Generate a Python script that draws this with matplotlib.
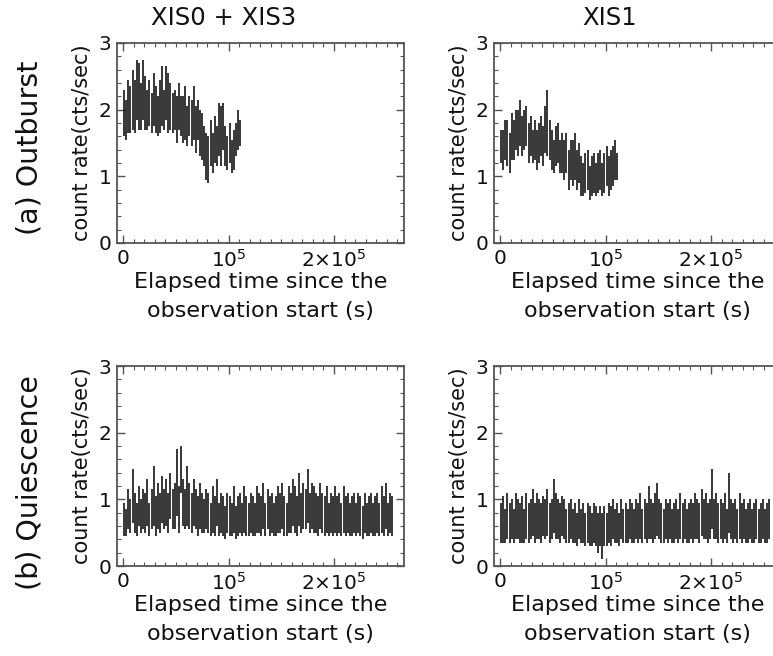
import numpy as np
import matplotlib
matplotlib.use("Agg")
import matplotlib.pyplot as plt
from matplotlib.ticker import MultipleLocator, FuncFormatter

plt.rcParams['font.family'] = ['DejaVu Sans']
plt.rcParams['mathtext.fontset'] = 'dejavusans'

# ---- light-curve data: 2 ks bins, bin centres in ks ----
BIN_KS = 2.0

# (a) Outburst, XIS0 + XIS3
out_xis03_rate = [1.95, 1.85, 2.05, 2.00, 2.15, 2.05, 2.30, 2.20, 2.05, 2.30,
                  2.10, 2.00, 2.10, 1.95, 2.15, 2.00, 1.90, 2.05, 2.20, 2.00,
                  2.25, 2.10, 2.05, 1.95, 2.00, 1.85, 2.05, 1.90, 1.85, 1.95,
                  1.75, 1.90, 1.80, 1.95, 1.70, 1.85, 1.65, 1.60, 1.45, 1.30,
                  1.25, 1.50, 1.35, 1.55, 1.45, 1.70, 1.60, 1.75, 1.45, 1.35,
                  1.50, 1.30, 1.40, 1.55, 1.70, 1.65]
out_xis03_err = [0.35, 0.30, 0.40, 0.35, 0.45, 0.40, 0.45, 0.50, 0.35, 0.45,
                 0.40, 0.30, 0.35, 0.30, 0.40, 0.35, 0.30, 0.40, 0.45, 0.30,
                 0.40, 0.45, 0.35, 0.30, 0.30, 0.35, 0.35, 0.30, 0.35, 0.40,
                 0.30, 0.30, 0.35, 0.40, 0.35, 0.30, 0.35, 0.35, 0.30, 0.35,
                 0.35, 0.35, 0.30, 0.35, 0.30, 0.40, 0.45, 0.35, 0.30, 0.25,
                 0.30, 0.25, 0.30, 0.25, 0.30, 0.20]

# (a) Outburst, XIS1
out_xis1_rate = [1.45, 1.40, 1.55, 1.50, 1.35, 1.60, 1.55, 1.70, 1.65, 1.80,
                 1.60, 1.70, 1.75, 1.50, 1.60, 1.45, 1.55, 1.40, 1.50, 1.60,
                 1.45, 1.70, 1.80, 1.55, 1.40, 1.30, 1.45, 1.50, 1.30, 1.35,
                 1.25, 1.35, 1.10, 1.25, 1.20, 1.30, 1.10, 1.20, 1.00, 0.95,
                 1.05, 1.10, 0.90, 1.00, 1.05, 0.95, 1.05, 1.10, 0.95, 1.05,
                 1.15, 1.00, 1.10, 1.15, 1.25, 1.15]
out_xis1_err = [0.25, 0.30, 0.30, 0.35, 0.30, 0.35, 0.30, 0.30, 0.35, 0.35,
                0.30, 0.30, 0.30, 0.30, 0.30, 0.25, 0.30, 0.30, 0.30, 0.30,
                0.30, 0.35, 0.50, 0.30, 0.30, 0.25, 0.30, 0.30, 0.25, 0.30,
                0.30, 0.30, 0.30, 0.30, 0.35, 0.35, 0.30, 0.30, 0.30, 0.25,
                0.30, 0.30, 0.25, 0.30, 0.30, 0.25, 0.30, 0.30, 0.25, 0.30,
                0.30, 0.30, 0.30, 0.30, 0.30, 0.20]

# (b) Quiescence, XIS0 + XIS3
qui_xis03_rate = [0.70, 0.65, 0.85, 0.75, 1.05, 0.80, 0.70, 0.90, 0.75, 0.85,
                  0.80, 0.95, 0.70, 0.85, 1.05, 0.75, 0.90, 0.80, 1.00, 0.85,
                  0.95, 0.80, 1.05, 0.85, 0.90, 1.25, 0.85, 1.45, 0.95, 0.85,
                  1.05, 0.90, 0.80, 0.95, 0.85, 0.75, 0.90, 0.80, 0.75, 0.85,
                  0.80, 0.70, 0.85, 0.75, 0.95, 0.70, 0.80, 0.75, 0.65, 0.80,
                  0.75, 0.70, 0.85, 0.65, 0.75, 0.80, 0.70, 0.85, 0.75, 0.70,
                  0.80, 0.75, 0.70, 0.85, 0.80, 0.75, 0.90, 0.70, 0.85, 0.75,
                  0.80, 0.70, 0.75, 0.85, 0.80, 0.90, 0.75, 0.70, 0.85, 0.80,
                  0.95, 0.85, 0.75, 1.00, 0.80, 0.90, 0.85, 1.05, 0.80, 0.90,
                  0.85, 0.80, 0.75, 0.90, 0.80, 0.75, 0.85, 0.70, 0.80, 0.75,
                  0.85, 0.75, 0.80, 0.70, 0.85, 0.75, 0.80, 0.70, 0.75, 0.80,
                  0.70, 0.80, 0.75, 0.65, 0.80, 0.70, 0.75, 0.80, 0.70, 0.75,
                  0.80, 0.70, 0.85, 0.75, 0.90, 0.70, 0.80, 0.75]
qui_xis03_err = [0.25, 0.20, 0.30, 0.25, 0.40, 0.30, 0.25, 0.30, 0.25, 0.30,
                 0.30, 0.35, 0.25, 0.30, 0.45, 0.30, 0.35, 0.30, 0.35, 0.30,
                 0.35, 0.30, 0.35, 0.30, 0.35, 0.50, 0.35, 0.35, 0.35, 0.30,
                 0.45, 0.35, 0.30, 0.35, 0.30, 0.30, 0.35, 0.30, 0.25, 0.30,
                 0.30, 0.25, 0.35, 0.30, 0.35, 0.25, 0.30, 0.30, 0.25, 0.30,
                 0.30, 0.25, 0.35, 0.25, 0.30, 0.30, 0.25, 0.35, 0.30, 0.25,
                 0.30, 0.30, 0.25, 0.35, 0.30, 0.30, 0.35, 0.25, 0.30, 0.30,
                 0.30, 0.25, 0.30, 0.35, 0.30, 0.35, 0.30, 0.25, 0.35, 0.30,
                 0.35, 0.35, 0.30, 0.40, 0.30, 0.35, 0.30, 0.40, 0.30, 0.35,
                 0.35, 0.30, 0.30, 0.35, 0.30, 0.30, 0.35, 0.25, 0.30, 0.30,
                 0.35, 0.30, 0.30, 0.25, 0.35, 0.30, 0.30, 0.25, 0.30, 0.30,
                 0.25, 0.30, 0.30, 0.25, 0.30, 0.25, 0.30, 0.30, 0.25, 0.30,
                 0.30, 0.25, 0.35, 0.30, 0.35, 0.25, 0.30, 0.30]

# (b) Quiescence, XIS1
qui_xis1_rate = [0.65, 0.70, 0.60, 0.75, 0.65, 0.70, 0.60, 0.75, 0.70, 0.65,
                 0.70, 0.60, 0.75, 0.65, 0.70, 0.80, 0.65, 0.75, 0.70, 0.65,
                 0.75, 0.70, 0.80, 0.65, 0.70, 0.90, 0.75, 0.70, 0.65, 0.75,
                 0.70, 0.60, 0.65, 0.70, 0.60, 0.65, 0.55, 0.70, 0.60, 0.65,
                 0.55, 0.65, 0.60, 0.55, 0.65, 0.60, 0.50, 0.60, 0.45, 0.60,
                 0.55, 0.65, 0.60, 0.70, 0.60, 0.65, 0.55, 0.70, 0.60, 0.65,
                 0.60, 0.70, 0.65, 0.60, 0.70, 0.65, 0.75, 0.60, 0.70, 0.65,
                 0.80, 0.70, 0.65, 0.75, 0.85, 0.70, 0.65, 0.60, 0.70, 0.65,
                 0.70, 0.60, 0.65, 0.70, 0.60, 0.75, 0.65, 0.70, 0.60, 0.65,
                 0.70, 0.65, 0.75, 0.70, 0.65, 0.80, 0.70, 0.75, 0.65, 0.70,
                 1.00, 0.70, 0.75, 0.65, 0.70, 0.65, 0.75, 0.60, 0.95, 0.70,
                 0.65, 0.70, 0.60, 0.75, 0.65, 0.70, 0.60, 0.65, 0.70, 0.60,
                 0.65, 0.70, 0.60, 0.65, 0.70, 0.60, 0.65, 0.70]
qui_xis1_err = [0.30, 0.35, 0.25, 0.35, 0.30, 0.30, 0.25, 0.35, 0.30, 0.30,
                0.35, 0.25, 0.35, 0.30, 0.30, 0.35, 0.30, 0.35, 0.30, 0.30,
                0.30, 0.30, 0.35, 0.30, 0.30, 0.40, 0.35, 0.30, 0.30, 0.30,
                0.30, 0.25, 0.30, 0.30, 0.25, 0.30, 0.25, 0.30, 0.25, 0.30,
                0.25, 0.30, 0.30, 0.25, 0.30, 0.30, 0.30, 0.30, 0.35, 0.30,
                0.25, 0.30, 0.30, 0.30, 0.25, 0.30, 0.25, 0.30, 0.25, 0.30,
                0.25, 0.30, 0.30, 0.25, 0.30, 0.30, 0.35, 0.25, 0.30, 0.30,
                0.40, 0.30, 0.30, 0.35, 0.40, 0.30, 0.30, 0.25, 0.30, 0.30,
                0.30, 0.25, 0.30, 0.30, 0.25, 0.35, 0.30, 0.30, 0.25, 0.30,
                0.30, 0.30, 0.35, 0.30, 0.30, 0.35, 0.30, 0.35, 0.30, 0.30,
                0.45, 0.30, 0.35, 0.30, 0.30, 0.30, 0.35, 0.25, 0.45, 0.30,
                0.30, 0.30, 0.25, 0.35, 0.30, 0.30, 0.25, 0.30, 0.30, 0.25,
                0.30, 0.30, 0.25, 0.30, 0.30, 0.25, 0.30, 0.30]

col_titles = ["XIS0 + XIS3", "XIS1"]
row_titles = ["(a) Outburst", "(b) Quiescence"]
ylabel = "count rate(cts/sec)"
xlabel = "Elapsed time since the\nobservation start (s)"

panels = [
    [(out_xis03_rate, out_xis03_err), (out_xis1_rate, out_xis1_err)],
    [(qui_xis03_rate, qui_xis03_err), (qui_xis1_rate, qui_xis1_err)],
]


def bin_times(n):
    # bin centres in seconds
    return (np.arange(n) + 0.5) * BIN_KS * 1e3


def xfmt(v, pos):
    if abs(v) < 1:
        return "0"
    k = int(round(v / 1e5))
    if k == 1:
        return r"$\mathregular{10^5}$"
    return r"$\mathregular{%d{\times}10^5}$" % k


fig = plt.figure(figsize=(7.73, 6.56), dpi=100)
W, H = 773.0, 656.0
lefts = [117, 494]
tops = [43, 366]
aw, ah = 287, 200
spine_col = "#555555"
ink = "#111111"

for r in range(2):
    for c in range(2):
        ax = fig.add_axes([lefts[c] / W, 1 - (tops[r] + ah) / H, aw / W, ah / H])
        rate, err = panels[r][c]
        t = bin_times(len(rate))
        ax.errorbar(t, rate, yerr=err, fmt="none", ecolor="#000000",
                    elinewidth=1.1, capsize=0)
        ax.set_xlim(-5700, 2.663e5)
        ax.set_ylim(0, 3)
        ax.xaxis.set_major_locator(MultipleLocator(1e5))
        ax.xaxis.set_minor_locator(MultipleLocator(1e4))
        ax.yaxis.set_major_locator(MultipleLocator(1))
        ax.yaxis.set_minor_locator(MultipleLocator(0.2))
        ax.xaxis.set_major_formatter(FuncFormatter(xfmt))
        ax.tick_params(which="both", direction="in", top=True, right=True,
                       color=spine_col, labelsize=14.5, labelcolor=ink)
        ax.tick_params(which="major", length=6, width=1.0, pad=4)
        ax.tick_params(which="minor", length=3, width=0.8)
        for s in ax.spines.values():
            s.set_color(spine_col)
            s.set_linewidth(1.3)
        ax.set_ylabel(ylabel, fontsize=15, labelpad=5, color=ink)
        ax.set_xlabel(xlabel, fontsize=16, linespacing=1.55, labelpad=1,
                      color=ink)

for c, (txt, xc) in enumerate(zip(col_titles, [224, 610])):
    fig.text(xc / W, 1 - 18 / H, txt, ha="center", va="center",
             fontsize=17.5, color=ink)
for r, (txt, yc) in enumerate(zip(row_titles, [148, 483])):
    fig.text(30 / W, 1 - yc / H, txt, ha="center", va="center",
             rotation=90, fontsize=20.5, color=ink)

fig.savefig("out.png", dpi=100)
